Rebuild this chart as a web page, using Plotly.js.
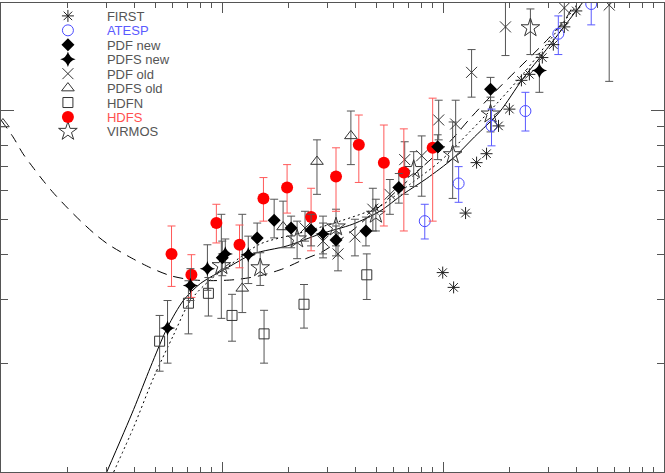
<!DOCTYPE html>
<html><head><meta charset="utf-8">
<script src="https://cdn.plot.ly/plotly-3.0.1.min.js"></script>
<style>html,body{margin:0;padding:0;background:#fff}#chart{width:665px;height:473px}</style>
</head><body><div id="chart"></div>
<script>
// ---- data (flux density S, normalised counts N) ----
const FIRST_S = [0.997, 1.117, 1.265, 1.419, 1.574, 1.783, 1.998, 2.264, 2.460, 2.815, 3.157, 3.54, 4.009];
const FIRST_N = [3.56, 3.24, 5.20, 7.17, 7.59, 9.06, 10.08, 12.11, 12.58, 14.00, 15.20, 17.02, 18.84];

const ATESP_S  = [0.827, 1.177, 1.658, 2.36, 3.325, 4.685];
const ATESP_N  = [4.94, 6.28, 9.06, 9.96, 16.29, 19.69];
const ATESP_HI = [5.50, 6.99, 10.08, 11.22, 18.25, 21.0];
const ATESP_LO = [4.41, 5.57, 7.98, 8.77, 14.27, 17.24];

const PDFNEW_S  = [0.1003, 0.1443, 0.1722, 0.2055, 0.253, 0.328, 0.448, 0.631, 0.946, 1.641];
const PDFNEW_N  = [3.91, 4.44, 4.97, 4.73, 4.67, 4.38, 4.64, 6.12, 7.93, 11.44];
const PDFNEW_HI = [4.35, 4.88, 5.68, 5.10, 5.16, 4.79, 5.07, 6.69, 8.56, 12.34];
const PDFNEW_LO = [3.49, 4.04, 4.44, 4.17, 4.22, 3.96, 4.22, 5.54, 7.31, 10.64];

const PDFSNEW_S  = [0.0567, 0.0720, 0.0859, 0.1035, 0.1315, 0.2865, 2.73];
const PDFSNEW_N  = [2.50, 3.28, 3.65, 4.01, 3.99, 4.55, 12.90];
const PDFSNEW_HI = [2.98, 3.65, 4.25, 4.41, 4.49, 4.88, 14.27];
const PDFSNEW_LO = [2.00, 2.98, 3.18, 3.65, 3.32, 3.91, 11.22];

const PDFOLD_S  = [0.2376, 0.2865, 0.335, 0.3995, 0.4816, 0.575, 0.671, 0.801, 0.956, 1.141, 1.347, 1.917, 3.54, 5.65];
const PDFOLD_N  = [4.73, 4.35, 4.01, 4.47, 5.33, 5.86, 7.31, 7.49, 9.41, 9.17, 12.74, 17.02, 19.20, 19.56];
const PDFOLD_HI = [5.26, 5.10, 4.58, 5.00, 6.09, 6.44, 8.19, 8.50, 10.67, 10.67, 14.73, 21.0, 21.0, 21.0];
const PDFOLD_LO = [4.35, 4.01, 3.60, 3.96, 4.64, 5.16, 5.86, 5.79, 8.29, 7.93, 10.88, 14.18, 17.5, 12.03];

const PDFSOLD_S  = [0.1235, 0.189, 0.269, 0.383];
const PDFSOLD_N  = [3.22, 4.76, 7.22, 8.50];
const PDFSOLD_HI = [5.16, 5.61, 8.29, 9.96];
const PDFSOLD_LO = [2.76, 4.17, 5.86, 7.08];
const PDFSOLD_EDGE_S = [0.0102];
const PDFSOLD_EDGE_N = [9.17];

const HDFN_S  = [0.0522, 0.0705, 0.0868, 0.111, 0.155, 0.235, 0.452];
const HDFN_N  = [2.30, 2.93, 3.12, 2.71, 2.41, 2.91, 3.51];
const HDFN_HI = [2.71, 3.38, 3.45, 3.10, 2.80, 3.30, 4.01];
const HDFN_LO = [1.90, 2.41, 2.70, 2.30, 2.00, 2.50, 3.00];

const HDFS_S  = [0.0591, 0.0727, 0.0943, 0.120, 0.154, 0.197, 0.253, 0.328, 0.416, 0.540, 0.665, 0.898];
const HDFS_N  = [4.01, 3.51, 4.88, 4.25, 5.71, 6.12, 5.07, 6.56, 8.04, 7.17, 6.73, 7.88];
const HDFS_HI = [4.79, 3.99, 5.50, 4.82, 6.52, 7.08, 6.09, 7.88, 9.71, 9.11, 8.89, 10.81];
const HDFS_LO = [3.26, 3.04, 4.30, 3.67, 4.94, 5.20, 4.09, 5.26, 6.32, 4.79, 4.64, 4.94];

const VIRMOS_S  = [0.0993, 0.1489, 0.2187, 0.328, 0.4968, 0.737, 1.106, 1.641, 2.486];
const VIRMOS_N  = [3.72, 3.67, 4.41, 4.76, 5.16, 6.86, 7.54, 9.77, 16.92];
const VIRMOS_HI = [5.16, 4.04, 4.94, 5.33, 5.68, 7.69, 9.29, 10.88, 19.08];
const VIRMOS_LO = [2.66, 3.28, 3.89, 4.22, 4.64, 6.16, 5.71, 8.72, 14.27];

// model curves
const SOLID_S = [0.0301, 0.0398, 0.0475, 0.0567, 0.0669, 0.0798, 0.1057, 0.1384, 0.197, 0.2777, 0.391, 0.518, 0.658, 0.844, 1.106, 1.389, 1.801, 2.288, 2.935, 3.727, 4.267];
const SOLID_N = [1.0, 1.488, 1.953, 2.514, 2.981, 3.319, 3.671, 4.011, 4.219, 4.551, 4.847, 5.262, 5.859, 6.482, 7.352, 8.450, 9.893, 12.19, 14.73, 17.80, 19.82];
const DOT_S = [0.03235, 0.0398, 0.0490, 0.0603, 0.0720, 0.0886, 0.1090, 0.1489, 0.2256, 0.342, 0.518, 0.707, 0.966, 1.319, 1.801, 2.335, 3.028, 3.846, 4.093];
const DOT_N = [1.0, 1.329, 1.822, 2.389, 2.981, 3.404, 3.742, 4.272, 4.580, 4.940, 5.430, 6.240, 7.215, 8.718, 10.64, 12.74, 15.58, 18.84, 19.82];
const DASH_S = [0.0100, 0.01133, 0.01257, 0.01409, 0.01563, 0.01734, 0.02006, 0.02296, 0.02628, 0.03039, 0.03741, 0.0475, 0.05846, 0.0720, 0.0886, 0.1148, 0.1489, 0.189, 0.2327, 0.2835, 0.3178, 0.391, 0.518, 0.686, 0.810, 1.072, 1.319, 1.675, 2.217, 2.935, 3.613, 3.926];
const DASH_N = [9.406, 8.450, 7.590, 6.902, 6.360, 5.896, 5.362, 4.940, 4.580, 4.272, 3.960, 3.671, 3.491, 3.404, 3.382, 3.404, 3.491, 3.648, 3.863, 4.062, 4.245, 4.667, 5.430, 6.360, 6.991, 8.187, 9.465, 11.08, 13.14, 15.58, 18.03, 19.82];

const X_MAJOR = [0.01, 0.1, 1, 10];
const X_MINOR = [0.02,0.03,0.04,0.05,0.06,0.07,0.08,0.09,0.2,0.3,0.4,0.5,0.6,0.7,0.8,0.9,2,3,4,5,6,7,8,9];
const Y_MAJOR = [1, 10];
const Y_MINOR = [2,3,4,5,6,7,8,9];

// ---- styles ----
const GREY = '#555555';
function err(n, hi, lo, color){
  return {type:'data', symmetric:false,
    array: hi.map((h,i)=>h-n[i]), arrayminus: lo.map((l,i)=>n[i]-l),
    thickness:1, width:4, color:color};
}
function curve(x, y, dash){
  return {x:x, y:y, mode:'lines', type:'scatter', showlegend:false, hoverinfo:'skip',
    line:{color:'#000', width:1, dash:dash, shape:'spline', smoothing:0.8}};
}
function pts(name, x, y, e, marker, leg){
  const t = {x:x, y:y, name:name, mode:'markers', type:'scatter', marker:marker, legend:leg};
  if (e) t.error_y = e;
  return t;
}

const traces = [
  curve(SOLID_S, SOLID_N, 'solid'),
  curve(DOT_S, DOT_N, '2px,3px'),
  curve(DASH_S, DASH_N, '10px,7px'),
  pts('HDFN', HDFN_S, HDFN_N, err(HDFN_N, HDFN_HI, HDFN_LO, GREY),
      {symbol:'square-open', size:10, color:'#333', line:{width:1}}, 'legend7'),
  pts('PDFS\u00a0old', PDFSOLD_S, PDFSOLD_N, err(PDFSOLD_N, PDFSOLD_HI, PDFSOLD_LO, GREY),
      {symbol:'triangle-up-open', size:11, color:'#333', line:{width:1}}, 'legend6'),
  {x:PDFSOLD_EDGE_S, y:PDFSOLD_EDGE_N, mode:'markers', type:'scatter', showlegend:false,
      marker:{symbol:'triangle-up-open', size:11, color:'#333', line:{width:1}}},
  pts('VIRMOS', VIRMOS_S, VIRMOS_N, err(VIRMOS_N, VIRMOS_HI, VIRMOS_LO, GREY),
      {symbol:'star-open', size:14, color:'#333', line:{width:1}}, 'legend9'),
  pts('PDF\u00a0old', PDFOLD_S, PDFOLD_N, err(PDFOLD_N, PDFOLD_HI, PDFOLD_LO, GREY),
      {symbol:'x-thin-open', size:11, color:'#333', line:{width:1}}, 'legend5'),
  pts('ATESP', ATESP_S, ATESP_N, err(ATESP_N, ATESP_HI, ATESP_LO, 'rgb(90,90,255)'),
      {symbol:'circle-open', size:11, color:'#4a4aff', line:{width:1}}, 'legend2'),
  pts('FIRST', FIRST_S, FIRST_N, null,
      {symbol:'asterisk-open', size:10, color:'#222', line:{width:1}}, 'legend'),
  pts('HDFS', HDFS_S, HDFS_N, err(HDFS_N, HDFS_HI, HDFS_LO, 'rgb(255,90,90)'),
      {symbol:'circle', size:12, color:'#ff0000'}, 'legend8'),
  pts('PDF\u00a0new', PDFNEW_S, PDFNEW_N, err(PDFNEW_N, PDFNEW_HI, PDFNEW_LO, GREY),
      {symbol:'diamond', size:10, color:'#000'}, 'legend3'),
  pts('PDFS\u00a0new', PDFSNEW_S, PDFSNEW_N, err(PDFSNEW_N, PDFSNEW_HI, PDFSNEW_LO, GREY),
      {symbol:'star-diamond', size:11, color:'#000'}, 'legend4')
];

// legend rows (pixel centres of the reference legend, evenly spaced)
const ROW_PX = [14, 28.5, 43, 57.5, 72, 86.5, 101, 115.5, 130];
const ROW_COL = ['#555', '#5a5aff', '#555', '#555', '#555', '#555', '#555', '#ff5050', '#555'];
const W = 665, H = 473, M = 1;
const layout = {
  width: W, height: H,
  margin: {l:M, r:M, t:M, b:M},
  paper_bgcolor:'#fff', plot_bgcolor:'#fff',
  xaxis: {type:'log', range:[-2, 1], showgrid:false, zeroline:false,
    showline:true, linecolor:GREY, linewidth:1, mirror:'allticks',
    ticks:'inside', ticklen:10, tickcolor:GREY, tickmode:'array', tickvals:X_MAJOR,
    showticklabels:false,
    minor:{tickmode:'array', tickvals:X_MINOR, ticks:'inside', ticklen:5, tickcolor:GREY, showgrid:false}},
  yaxis: {type:'log', range:[0, 1.297], showgrid:false, zeroline:false,
    showline:true, linecolor:GREY, linewidth:1, mirror:'allticks',
    ticks:'inside', ticklen:13, tickcolor:GREY, tickmode:'array', tickvals:Y_MAJOR,
    showticklabels:false,
    minor:{tickmode:'array', tickvals:Y_MINOR, ticks:'inside', ticklen:7, tickcolor:GREY, showgrid:false}},
  showlegend: true
};
ROW_PX.forEach((py, i) => {
  const key = i === 0 ? 'legend' : 'legend' + (i + 1);
  layout[key] = {
    x: 28 / W, y: 1 - (py - M) / (H - 2 * M), xanchor:'left', yanchor:'middle',
    bgcolor:'rgba(0,0,0,0)', borderwidth:0, itemwidth:68,
    font:{family:'Liberation Sans, Arial, sans-serif', size:13, color:ROW_COL[i]}
  };
});

Plotly.newPlot('chart', traces, layout, {staticPlot:true, displayModeBar:false});
</script>
</body></html>
